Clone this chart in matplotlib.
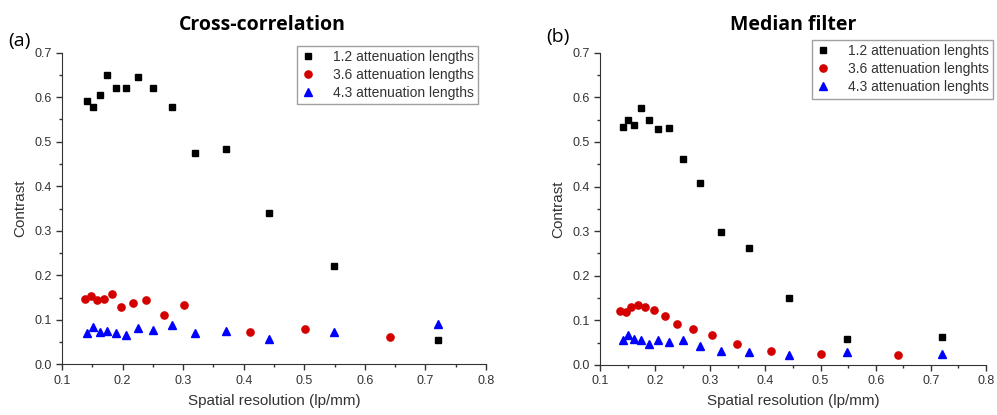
import matplotlib.pyplot as plt
from matplotlib.ticker import MultipleLocator

plt.rcParams['font.family'] = ['Liberation Sans', 'DejaVu Sans']

# (a) Cross-correlation
a_x_12 = [0.142, 0.151, 0.162, 0.174, 0.189, 0.206, 0.226, 0.250, 0.281, 0.319, 0.371, 0.442, 0.549, 0.721]
a_y_12 = [0.592, 0.579, 0.606, 0.650, 0.621, 0.621, 0.646, 0.621, 0.579, 0.475, 0.484, 0.341, 0.222, 0.055]
a_x_36 = [0.138, 0.148, 0.158, 0.169, 0.182, 0.198, 0.217, 0.239, 0.268, 0.302, 0.411, 0.501, 0.641]
a_y_36 = [0.147, 0.153, 0.145, 0.146, 0.158, 0.130, 0.137, 0.144, 0.112, 0.134, 0.074, 0.079, 0.061]
a_x_43 = [0.142, 0.151, 0.162, 0.175, 0.189, 0.206, 0.226, 0.250, 0.281, 0.319, 0.371, 0.442, 0.549, 0.721]
a_y_43 = [0.071, 0.084, 0.073, 0.076, 0.070, 0.067, 0.083, 0.077, 0.089, 0.071, 0.076, 0.057, 0.074, 0.091]

# (b) Median filter
b_x_12 = [0.141, 0.151, 0.161, 0.174, 0.188, 0.205, 0.225, 0.250, 0.281, 0.320, 0.371, 0.442, 0.548, 0.720]
b_y_12 = [0.534, 0.548, 0.537, 0.576, 0.550, 0.530, 0.531, 0.462, 0.407, 0.299, 0.262, 0.151, 0.059, 0.062]
b_x_36 = [0.137, 0.147, 0.157, 0.169, 0.182, 0.198, 0.217, 0.239, 0.268, 0.303, 0.349, 0.410, 0.500, 0.640]
b_y_36 = [0.121, 0.118, 0.131, 0.135, 0.129, 0.124, 0.109, 0.091, 0.081, 0.067, 0.047, 0.031, 0.025, 0.022]
b_x_43 = [0.142, 0.151, 0.161, 0.174, 0.188, 0.205, 0.225, 0.250, 0.281, 0.320, 0.371, 0.442, 0.548, 0.720]
b_y_43 = [0.055, 0.067, 0.058, 0.057, 0.046, 0.055, 0.051, 0.055, 0.043, 0.032, 0.029, 0.022, 0.030, 0.024]

fig = plt.figure(figsize=(9.97, 4.15), dpi=100)
ax1 = fig.add_axes([0.0622, 0.1217, 0.4253, 0.7514])
ax2 = fig.add_axes([0.6018, 0.1205, 0.3872, 0.7526])


def draw(ax, xs, ys, labels, title, title_x, letter, letter_pos, leg_anchor):
    ax.plot(xs[0], ys[0], 's', color='black', markersize=4.6, label=labels[0])
    ax.plot(xs[1], ys[1], 'o', color='#d40000', markersize=5.2, label=labels[1])
    ax.plot(xs[2], ys[2], '^', color='#0000ff', markersize=5.6, label=labels[2])
    ax.set_xlim(0.1, 0.8)
    ax.set_ylim(0.0, 0.7)
    ax.xaxis.set_major_locator(MultipleLocator(0.1))
    ax.xaxis.set_minor_locator(MultipleLocator(0.05))
    ax.yaxis.set_major_locator(MultipleLocator(0.1))
    ax.yaxis.set_minor_locator(MultipleLocator(0.05))
    ax.xaxis.set_major_formatter(plt.FormatStrFormatter('%.1f'))
    ax.yaxis.set_major_formatter(plt.FormatStrFormatter('%.1f'))
    ax.spines['top'].set_visible(False)
    ax.spines['right'].set_visible(False)
    ax.spines['left'].set_color('#333333')
    ax.spines['bottom'].set_color('#333333')
    ax.tick_params(which='major', length=4, width=1, labelsize=9, colors='#333333', labelcolor='#333333')
    ax.tick_params(which='minor', length=2.5, width=1, colors='#333333')
    ax.set_xlabel('Spatial resolution (lp/mm)', fontsize=11, color='#333333', labelpad=5)
    ax.set_ylabel('Contrast', fontsize=11, color='#333333', labelpad=5)
    ax.set_title(title, fontsize=14, fontweight='bold', family=['Open Sans', 'DejaVu Sans'],
                 pad=16, x=title_x)
    ax.text(letter_pos[0], letter_pos[1], letter, transform=ax.transAxes, fontsize=14,
            family=['Open Sans', 'DejaVu Sans'], ha='left', va='top')
    leg = ax.legend(loc='upper right', bbox_to_anchor=leg_anchor, fontsize=10,
                    frameon=True, fancybox=False, handlelength=1.0, handletextpad=1.3,
                    borderpad=0.3, labelspacing=0.3, borderaxespad=0)
    leg.get_frame().set_edgecolor('#888888')
    leg.get_frame().set_linewidth(1)
    for t in leg.get_texts():
        t.set_color('#333333')


draw(ax1, [a_x_12, a_x_36, a_x_43], [a_y_12, a_y_36, a_y_43],
     ['1.2 attenuation lengths', '3.6 attenuation lengths', '4.3 attenuation lengths'],
     'Cross-correlation', 0.472, '(a)', (-0.127, 1.065), (0.981, 1.022))
draw(ax2, [b_x_12, b_x_36, b_x_43], [b_y_12, b_y_36, b_y_43],
     ['1.2 attenuation lenghts', '3.6 attenuation lenghts', '4.3 attenuation lenghts'],
     'Median filter', 0.5, '(b)', (-0.14, 1.08), (1.018, 1.041))

fig.savefig('out.png', dpi=100)
